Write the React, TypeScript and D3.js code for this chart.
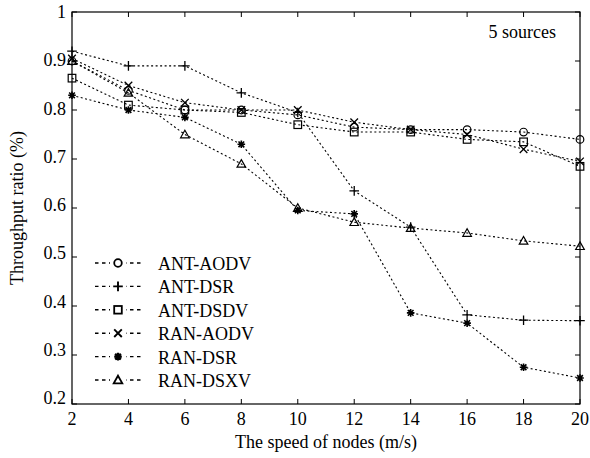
import React, { useEffect, useRef } from 'react';
import * as d3 from 'd3';

const speeds = [2, 4, 6, 8, 10, 12, 14, 16, 18, 20];
const antAodv = [0.9, 0.84, 0.8, 0.8, 0.79, 0.765, 0.76, 0.76, 0.755, 0.74];
const antDsr = [0.92, 0.89, 0.89, 0.835, 0.795, 0.635, 0.561, 0.382, 0.371, 0.37];
const antDsdv = [0.865, 0.81, 0.8, 0.795, 0.77, 0.755, 0.755, 0.74, 0.735, 0.685];
const ranAodv = [0.905, 0.85, 0.815, 0.8, 0.8, 0.775, 0.76, 0.75, 0.72, 0.695];
const ranDsr = [0.83, 0.8, 0.785, 0.73, 0.595, 0.588, 0.386, 0.365, 0.275, 0.253];
const ranDsxv = [0.9, 0.835, 0.75, 0.69, 0.6, 0.571, 0.559, 0.549, 0.533, 0.522];
const seriesNames = ['ANT-AODV', 'ANT-DSR', 'ANT-DSDV', 'RAN-AODV', 'RAN-DSR', 'RAN-DSXV'];
const markers = ['circle', 'plus', 'square', 'cross', 'star', 'triangle'];
const yTicks = [0.2, 0.3, 0.4, 0.5, 0.6, 0.7, 0.8, 0.9, 1];

const font = '"Liberation Serif", "Times New Roman", serif';

function drawMarker(g: any, kind: string, x: number, y: number, sw = 1.2) {
  const s = 3.8;
  if (kind === 'circle') {
    g.append('circle').attr('cx', x).attr('cy', y).attr('r', s).attr('fill', 'none').attr('stroke', '#000').attr('stroke-width', sw);
  } else if (kind === 'square') {
    g.append('rect').attr('x', x - s).attr('y', y - s).attr('width', 2 * s).attr('height', 2 * s)
      .attr('fill', 'none').attr('stroke', '#000').attr('stroke-width', sw);
  } else if (kind === 'triangle') {
    g.append('path').attr('d', `M${x},${y - s - 0.5}L${x + s + 0.5},${y + s - 0.5}L${x - s - 0.5},${y + s - 0.5}Z`)
      .attr('fill', 'none').attr('stroke', '#000').attr('stroke-width', sw);
  } else if (kind === 'plus') {
    g.append('path').attr('d', `M${x - s - 1},${y}H${x + s + 1}M${x},${y - s - 1}V${y + s + 1}`)
      .attr('stroke', '#000').attr('stroke-width', sw + 0.1);
  } else if (kind === 'cross') {
    g.append('path').attr('d', `M${x - s},${y - s}L${x + s},${y + s}M${x - s},${y + s}L${x + s},${y - s}`)
      .attr('stroke', '#000').attr('stroke-width', sw + 0.1);
  } else if (kind === 'star') {
    g.append('path').attr('d', `M${x - s},${y}H${x + s}M${x},${y - s}V${y + s}M${x - s * 0.75},${y - s * 0.75}L${x + s * 0.75},${y + s * 0.75}M${x - s * 0.75},${y + s * 0.75}L${x + s * 0.75},${y - s * 0.75}`)
      .attr('stroke', '#000').attr('stroke-width', sw + 0.4);
  }
}

export default function App() {
  const ref = useRef<SVGSVGElement>(null);

  useEffect(() => {
    const svg = d3.select(ref.current);
    svg.selectAll('*').remove();
    const w = 590, h = 458;
    const left = 72, right = 580, top = 12, bottom = 404;
    const fs = '18px';

    const x = d3.scaleLinear().domain([2, 20]).range([left, right]);
    const y = d3.scaleLinear().domain([0.2, 1]).range([bottom, top]);
    // tick label baselines sit slightly off the ticks in the original
    const yLab = d3.scaleLinear().domain([0.2, 1]).range([404, 18]);

    svg.append('rect').attr('width', w).attr('height', h).attr('fill', '#fff');

    // box
    svg.append('rect').attr('x', left).attr('y', top).attr('width', right - left).attr('height', bottom - top)
      .attr('fill', 'none').attr('stroke', '#000').attr('stroke-width', 1.2);

    const tl = 5;
    speeds.forEach((s) => {
      svg.append('line').attr('x1', x(s)).attr('x2', x(s)).attr('y1', bottom).attr('y2', bottom - tl).attr('stroke', '#000');
      svg.append('line').attr('x1', x(s)).attr('x2', x(s)).attr('y1', top).attr('y2', top + tl).attr('stroke', '#000');
      svg.append('text').attr('x', x(s)).attr('y', bottom + 21).attr('text-anchor', 'middle')
        .style('font-family', font).style('font-size', fs).text(s);
    });
    yTicks.forEach((v) => {
      svg.append('line').attr('x1', left).attr('x2', left + tl).attr('y1', y(v)).attr('y2', y(v)).attr('stroke', '#000');
      svg.append('line').attr('x1', right).attr('x2', right - tl).attr('y1', y(v)).attr('y2', y(v)).attr('stroke', '#000');
      svg.append('text').attr('x', left - 6).attr('y', yLab(v)).attr('text-anchor', 'end')
        .style('font-family', font).style('font-size', fs).text(v === 1 ? '1' : v.toFixed(1));
    });

    svg.append('text').attr('x', 326).attr('y', 448).attr('text-anchor', 'middle')
      .style('font-family', font).style('font-size', fs).text('The speed of nodes (m/s)');
    svg.append('text').attr('transform', `translate(23,${(top + bottom) / 2}) rotate(-90)`).attr('text-anchor', 'middle')
      .style('font-family', font).style('font-size', fs).text('Throughput ratio (%)');
    svg.append('text').attr('x', 556).attr('y', 38).attr('text-anchor', 'end')
      .style('font-family', font).style('font-size', fs).text('5 sources');

    const all = [antAodv, antDsr, antDsdv, ranAodv, ranDsr, ranDsxv];
    const line = d3.line<number>().x((_, i) => x(speeds[i])).y((d) => y(d));

    all.forEach((vals, k) => {
      const g = svg.append('g');
      g.append('path').attr('d', line(vals)).attr('fill', 'none').attr('stroke', '#000')
        .attr('stroke-width', 1.1).attr('stroke-dasharray', '2,2.5');
      vals.forEach((v, i) => drawMarker(g, markers[k], x(speeds[i]), y(v)));
    });

    // legend
    const lg = svg.append('g');
    seriesNames.forEach((name, k) => {
      const ly = 263 + k * 23.4;
      lg.append('line').attr('x1', 95).attr('x2', 143).attr('y1', ly).attr('y2', ly)
        .attr('stroke', '#000').attr('stroke-width', 1.4).attr('stroke-dasharray', '3.5,3.5');
      lg.append('rect').attr('x', 110).attr('y', ly - 6).attr('width', 16).attr('height', 12).attr('fill', '#fff');
      drawMarker(lg, markers[k], 118, ly, 1.8);
      lg.append('text').attr('x', 158).attr('y', ly + 7)
        .style('font-family', font).style('font-size', fs).text(name);
    });
  }, []);

  return <svg ref={ref} width={590} height={458} style={{ position: 'absolute', left: 0, top: 0 }} />;
}
